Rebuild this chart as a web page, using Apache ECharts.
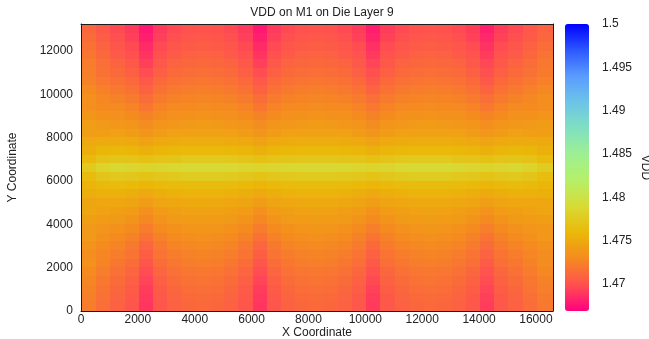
<!DOCTYPE html>
<html>
<head>
<meta charset="utf-8">
<title>VDD on M1 on Die Layer 9</title>
<script src="https://cdn.jsdelivr.net/npm/echarts@6/dist/echarts.min.js"></script>
<style>
    html, body { margin: 0; padding: 0; background: #fff; }
    #chart { width: 649px; height: 339px; }
</style>
</head>
<body>
<div id="chart"></div>
<script>
// cell centres (die coordinates)
var xCoords = [300, 800, 1300, 1800, 2300, 2800, 3300, 3800, 4300, 4800, 5300, 5800, 6300, 6800, 7300, 7800,
    8300, 8800, 9300, 9800, 10300, 10800, 11300, 11800, 12300, 12800, 13300, 13800, 14300, 14800, 15300, 15800, 16300];
// rows from top of the die to the bottom
var yCoords = [13000, 12600, 12200, 11800, 11400, 11000, 10600, 10200, 9800, 9400, 9000, 8600, 8200, 7800, 7400, 7000,
    6600, 6200, 5800, 5400, 5000, 4600, 4200, 3800, 3400, 3000, 2600, 2200, 1800, 1400, 1000, 600, 200];

var X_MIN = 0, X_MAX = 16600;
var Y_MIN = 0, Y_MAX = 13250;
var VDD_MIN = 1.4669, VDD_MAX = 1.5;

// VDD (V), one row per yCoords entry, one value per xCoords entry
var vdd = [
    [1.4711, 1.4704, 1.4697, 1.4691, 1.4678, 1.4691, 1.4697, 1.4700, 1.4701, 1.4700, 1.4697, 1.4691, 1.4678, 1.4691, 1.4697, 1.4700, 1.4701, 1.4700, 1.4697, 1.4692, 1.4680, 1.4692, 1.4697, 1.4700, 1.4701, 1.4700, 1.4697, 1.4692, 1.4681, 1.4692, 1.4697, 1.4703, 1.4709],
    [1.4713, 1.4706, 1.4699, 1.4693, 1.4681, 1.4693, 1.4699, 1.4702, 1.4703, 1.4702, 1.4699, 1.4693, 1.4681, 1.4693, 1.4699, 1.4702, 1.4703, 1.4702, 1.4699, 1.4694, 1.4683, 1.4694, 1.4699, 1.4702, 1.4703, 1.4702, 1.4699, 1.4694, 1.4684, 1.4694, 1.4699, 1.4705, 1.4711],
    [1.4716, 1.4709, 1.4702, 1.4697, 1.4685, 1.4697, 1.4702, 1.4705, 1.4706, 1.4705, 1.4702, 1.4697, 1.4685, 1.4697, 1.4702, 1.4705, 1.4706, 1.4705, 1.4702, 1.4698, 1.4687, 1.4698, 1.4702, 1.4705, 1.4706, 1.4705, 1.4702, 1.4698, 1.4688, 1.4698, 1.4702, 1.4708, 1.4714],
    [1.4719, 1.4712, 1.4705, 1.4700, 1.4689, 1.4700, 1.4705, 1.4708, 1.4709, 1.4708, 1.4705, 1.4700, 1.4689, 1.4700, 1.4705, 1.4708, 1.4709, 1.4708, 1.4705, 1.4701, 1.4691, 1.4701, 1.4705, 1.4708, 1.4709, 1.4708, 1.4705, 1.4701, 1.4692, 1.4701, 1.4705, 1.4711, 1.4717],
    [1.4722, 1.4715, 1.4709, 1.4703, 1.4693, 1.4703, 1.4709, 1.4711, 1.4712, 1.4711, 1.4709, 1.4703, 1.4693, 1.4703, 1.4709, 1.4711, 1.4712, 1.4711, 1.4709, 1.4704, 1.4695, 1.4704, 1.4709, 1.4711, 1.4712, 1.4711, 1.4709, 1.4704, 1.4696, 1.4704, 1.4709, 1.4714, 1.4720],
    [1.4723, 1.4716, 1.4712, 1.4707, 1.4698, 1.4707, 1.4712, 1.4714, 1.4715, 1.4714, 1.4712, 1.4707, 1.4698, 1.4707, 1.4712, 1.4714, 1.4715, 1.4714, 1.4712, 1.4707, 1.4699, 1.4707, 1.4712, 1.4714, 1.4715, 1.4714, 1.4712, 1.4707, 1.4699, 1.4707, 1.4712, 1.4716, 1.4721],
    [1.4725, 1.4720, 1.4716, 1.4712, 1.4703, 1.4712, 1.4716, 1.4718, 1.4719, 1.4718, 1.4716, 1.4712, 1.4703, 1.4712, 1.4716, 1.4718, 1.4719, 1.4718, 1.4716, 1.4712, 1.4704, 1.4712, 1.4716, 1.4718, 1.4719, 1.4718, 1.4716, 1.4712, 1.4704, 1.4712, 1.4716, 1.4720, 1.4724],
    [1.4729, 1.4724, 1.4720, 1.4716, 1.4708, 1.4716, 1.4720, 1.4722, 1.4723, 1.4722, 1.4720, 1.4716, 1.4708, 1.4716, 1.4720, 1.4722, 1.4723, 1.4722, 1.4720, 1.4716, 1.4709, 1.4716, 1.4720, 1.4722, 1.4723, 1.4722, 1.4720, 1.4716, 1.4709, 1.4716, 1.4720, 1.4724, 1.4728],
    [1.4733, 1.4728, 1.4725, 1.4721, 1.4714, 1.4721, 1.4725, 1.4726, 1.4727, 1.4726, 1.4725, 1.4721, 1.4714, 1.4721, 1.4725, 1.4726, 1.4727, 1.4726, 1.4725, 1.4721, 1.4715, 1.4721, 1.4725, 1.4726, 1.4727, 1.4726, 1.4725, 1.4721, 1.4715, 1.4721, 1.4725, 1.4728, 1.4732],
    [1.4733, 1.4730, 1.4729, 1.4726, 1.4719, 1.4726, 1.4729, 1.4730, 1.4731, 1.4730, 1.4729, 1.4726, 1.4719, 1.4726, 1.4729, 1.4730, 1.4731, 1.4730, 1.4729, 1.4726, 1.4720, 1.4726, 1.4729, 1.4730, 1.4731, 1.4730, 1.4729, 1.4726, 1.4720, 1.4726, 1.4729, 1.4730, 1.4732],
    [1.4737, 1.4734, 1.4733, 1.4730, 1.4725, 1.4730, 1.4733, 1.4734, 1.4735, 1.4734, 1.4733, 1.4730, 1.4725, 1.4730, 1.4733, 1.4734, 1.4735, 1.4734, 1.4733, 1.4730, 1.4725, 1.4730, 1.4733, 1.4734, 1.4735, 1.4734, 1.4733, 1.4730, 1.4726, 1.4730, 1.4733, 1.4734, 1.4736],
    [1.4742, 1.4739, 1.4738, 1.4736, 1.4731, 1.4736, 1.4738, 1.4739, 1.4740, 1.4739, 1.4738, 1.4736, 1.4731, 1.4736, 1.4738, 1.4739, 1.4740, 1.4739, 1.4738, 1.4736, 1.4731, 1.4736, 1.4738, 1.4739, 1.4740, 1.4739, 1.4738, 1.4736, 1.4732, 1.4736, 1.4738, 1.4739, 1.4741],
    [1.4742, 1.4743, 1.4744, 1.4741, 1.4737, 1.4741, 1.4744, 1.4744, 1.4745, 1.4744, 1.4744, 1.4741, 1.4737, 1.4741, 1.4744, 1.4744, 1.4745, 1.4744, 1.4744, 1.4741, 1.4737, 1.4741, 1.4744, 1.4744, 1.4745, 1.4744, 1.4744, 1.4741, 1.4738, 1.4741, 1.4744, 1.4743, 1.4743],
    [1.4749, 1.4751, 1.4751, 1.4749, 1.4745, 1.4749, 1.4751, 1.4752, 1.4752, 1.4752, 1.4751, 1.4749, 1.4745, 1.4749, 1.4751, 1.4752, 1.4752, 1.4752, 1.4751, 1.4749, 1.4745, 1.4749, 1.4751, 1.4752, 1.4752, 1.4752, 1.4751, 1.4749, 1.4746, 1.4749, 1.4751, 1.4751, 1.4750],
    [1.4753, 1.4758, 1.4759, 1.4757, 1.4754, 1.4757, 1.4759, 1.4760, 1.4760, 1.4760, 1.4759, 1.4757, 1.4754, 1.4757, 1.4759, 1.4760, 1.4760, 1.4760, 1.4759, 1.4757, 1.4754, 1.4757, 1.4759, 1.4760, 1.4760, 1.4760, 1.4759, 1.4757, 1.4754, 1.4757, 1.4759, 1.4758, 1.4754],
    [1.4761, 1.4768, 1.4771, 1.4770, 1.4767, 1.4770, 1.4771, 1.4774, 1.4774, 1.4774, 1.4773, 1.4770, 1.4767, 1.4770, 1.4771, 1.4772, 1.4772, 1.4772, 1.4771, 1.4770, 1.4767, 1.4770, 1.4773, 1.4774, 1.4774, 1.4774, 1.4771, 1.4770, 1.4767, 1.4770, 1.4771, 1.4768, 1.4762],
    [1.4774, 1.4783, 1.4787, 1.4786, 1.4784, 1.4786, 1.4787, 1.4790, 1.4790, 1.4790, 1.4789, 1.4786, 1.4784, 1.4786, 1.4787, 1.4788, 1.4788, 1.4788, 1.4787, 1.4786, 1.4784, 1.4786, 1.4789, 1.4790, 1.4790, 1.4790, 1.4787, 1.4786, 1.4784, 1.4786, 1.4787, 1.4783, 1.4776],
    [1.4763, 1.4770, 1.4773, 1.4772, 1.4769, 1.4772, 1.4773, 1.4776, 1.4776, 1.4776, 1.4775, 1.4772, 1.4769, 1.4772, 1.4773, 1.4774, 1.4774, 1.4774, 1.4773, 1.4772, 1.4769, 1.4772, 1.4775, 1.4776, 1.4776, 1.4776, 1.4773, 1.4772, 1.4769, 1.4772, 1.4773, 1.4770, 1.4764],
    [1.4756, 1.4761, 1.4762, 1.4760, 1.4757, 1.4760, 1.4762, 1.4763, 1.4763, 1.4763, 1.4762, 1.4760, 1.4757, 1.4760, 1.4762, 1.4763, 1.4763, 1.4763, 1.4762, 1.4760, 1.4757, 1.4760, 1.4762, 1.4763, 1.4763, 1.4763, 1.4762, 1.4760, 1.4757, 1.4760, 1.4762, 1.4761, 1.4757],
    [1.4753, 1.4755, 1.4755, 1.4753, 1.4749, 1.4753, 1.4755, 1.4756, 1.4756, 1.4756, 1.4755, 1.4753, 1.4749, 1.4753, 1.4755, 1.4756, 1.4756, 1.4756, 1.4755, 1.4753, 1.4749, 1.4753, 1.4755, 1.4756, 1.4756, 1.4756, 1.4755, 1.4753, 1.4750, 1.4753, 1.4755, 1.4755, 1.4754],
    [1.4747, 1.4748, 1.4748, 1.4746, 1.4741, 1.4746, 1.4748, 1.4749, 1.4750, 1.4749, 1.4748, 1.4746, 1.4741, 1.4746, 1.4748, 1.4749, 1.4750, 1.4749, 1.4748, 1.4746, 1.4742, 1.4746, 1.4748, 1.4749, 1.4750, 1.4749, 1.4748, 1.4746, 1.4742, 1.4746, 1.4748, 1.4748, 1.4748],
    [1.4747, 1.4744, 1.4743, 1.4740, 1.4734, 1.4740, 1.4743, 1.4744, 1.4745, 1.4744, 1.4743, 1.4740, 1.4734, 1.4740, 1.4743, 1.4744, 1.4745, 1.4744, 1.4743, 1.4740, 1.4735, 1.4740, 1.4743, 1.4744, 1.4745, 1.4744, 1.4743, 1.4740, 1.4735, 1.4740, 1.4743, 1.4744, 1.4746],
    [1.4743, 1.4740, 1.4739, 1.4735, 1.4728, 1.4735, 1.4739, 1.4740, 1.4741, 1.4740, 1.4739, 1.4735, 1.4728, 1.4735, 1.4739, 1.4740, 1.4741, 1.4740, 1.4739, 1.4735, 1.4729, 1.4735, 1.4739, 1.4740, 1.4741, 1.4740, 1.4739, 1.4735, 1.4729, 1.4735, 1.4739, 1.4740, 1.4742],
    [1.4739, 1.4736, 1.4734, 1.4730, 1.4722, 1.4730, 1.4734, 1.4736, 1.4737, 1.4736, 1.4734, 1.4730, 1.4722, 1.4730, 1.4734, 1.4736, 1.4737, 1.4736, 1.4734, 1.4730, 1.4723, 1.4730, 1.4734, 1.4736, 1.4737, 1.4736, 1.4734, 1.4730, 1.4723, 1.4730, 1.4734, 1.4736, 1.4738],
    [1.4739, 1.4734, 1.4730, 1.4725, 1.4716, 1.4725, 1.4730, 1.4732, 1.4733, 1.4732, 1.4730, 1.4725, 1.4716, 1.4725, 1.4730, 1.4732, 1.4733, 1.4732, 1.4730, 1.4725, 1.4717, 1.4725, 1.4730, 1.4732, 1.4733, 1.4732, 1.4730, 1.4725, 1.4718, 1.4725, 1.4730, 1.4734, 1.4738],
    [1.4735, 1.4730, 1.4726, 1.4720, 1.4710, 1.4720, 1.4726, 1.4728, 1.4729, 1.4728, 1.4726, 1.4720, 1.4710, 1.4720, 1.4726, 1.4728, 1.4729, 1.4728, 1.4726, 1.4721, 1.4712, 1.4721, 1.4726, 1.4728, 1.4729, 1.4728, 1.4726, 1.4721, 1.4713, 1.4721, 1.4726, 1.4730, 1.4734],
    [1.4732, 1.4727, 1.4722, 1.4717, 1.4706, 1.4717, 1.4722, 1.4725, 1.4726, 1.4725, 1.4722, 1.4717, 1.4706, 1.4717, 1.4722, 1.4725, 1.4726, 1.4725, 1.4722, 1.4718, 1.4708, 1.4718, 1.4722, 1.4725, 1.4726, 1.4725, 1.4722, 1.4718, 1.4709, 1.4718, 1.4722, 1.4727, 1.4731],
    [1.4733, 1.4726, 1.4719, 1.4714, 1.4702, 1.4714, 1.4719, 1.4722, 1.4723, 1.4722, 1.4719, 1.4714, 1.4702, 1.4714, 1.4719, 1.4722, 1.4723, 1.4722, 1.4719, 1.4715, 1.4704, 1.4715, 1.4719, 1.4722, 1.4723, 1.4722, 1.4719, 1.4715, 1.4705, 1.4715, 1.4719, 1.4725, 1.4731],
    [1.4730, 1.4723, 1.4716, 1.4710, 1.4698, 1.4710, 1.4716, 1.4719, 1.4720, 1.4719, 1.4716, 1.4710, 1.4698, 1.4710, 1.4716, 1.4719, 1.4720, 1.4719, 1.4716, 1.4711, 1.4700, 1.4711, 1.4716, 1.4719, 1.4720, 1.4719, 1.4716, 1.4711, 1.4701, 1.4711, 1.4716, 1.4722, 1.4728],
    [1.4727, 1.4720, 1.4713, 1.4707, 1.4695, 1.4707, 1.4713, 1.4716, 1.4717, 1.4716, 1.4713, 1.4707, 1.4695, 1.4707, 1.4713, 1.4716, 1.4717, 1.4716, 1.4713, 1.4708, 1.4697, 1.4708, 1.4713, 1.4716, 1.4717, 1.4716, 1.4713, 1.4708, 1.4698, 1.4708, 1.4713, 1.4719, 1.4725],
    [1.4725, 1.4718, 1.4711, 1.4705, 1.4692, 1.4705, 1.4711, 1.4714, 1.4715, 1.4714, 1.4711, 1.4705, 1.4692, 1.4705, 1.4711, 1.4714, 1.4715, 1.4714, 1.4711, 1.4706, 1.4694, 1.4706, 1.4711, 1.4714, 1.4715, 1.4714, 1.4711, 1.4706, 1.4695, 1.4706, 1.4711, 1.4717, 1.4723],
    [1.4723, 1.4716, 1.4709, 1.4703, 1.4690, 1.4703, 1.4709, 1.4712, 1.4713, 1.4712, 1.4709, 1.4703, 1.4690, 1.4703, 1.4709, 1.4712, 1.4713, 1.4712, 1.4709, 1.4704, 1.4692, 1.4704, 1.4709, 1.4712, 1.4713, 1.4712, 1.4709, 1.4704, 1.4693, 1.4704, 1.4709, 1.4715, 1.4721],
    [1.4722, 1.4715, 1.4708, 1.4702, 1.4689, 1.4702, 1.4708, 1.4711, 1.4712, 1.4711, 1.4708, 1.4702, 1.4689, 1.4702, 1.4708, 1.4711, 1.4712, 1.4711, 1.4708, 1.4703, 1.4691, 1.4703, 1.4708, 1.4711, 1.4712, 1.4711, 1.4708, 1.4703, 1.4692, 1.4703, 1.4708, 1.4714, 1.4720]
];

// colour map of the colour bar, low -> high
var vddColors = ['#ff0080', '#ff5050', '#f58a20', '#eab808', '#d8da34', '#b6f068',
    '#9ef092', '#80e0c0', '#6cc4e8', '#5a9cff', '#2c58ff', '#0000ff'];

var FONT = "'Liberation Sans', Arial, sans-serif";
var TEXT_COLOR = '#222';
var FRAME = { show: true, onZero: false, lineStyle: { color: '#1a1a1a', width: 1 } };

if (vdd.length !== yCoords.length) {
    throw new Error('vdd rows: ' + vdd.length);
}
var cells = [];
for (var r = 0; r < vdd.length; r++) {
    if (vdd[r].length !== xCoords.length) {
        throw new Error('row ' + r + ' has ' + vdd[r].length + ' values');
    }
    for (var c = 0; c < vdd[r].length; c++) {
        cells.push([xCoords[c], yCoords[r], vdd[r][c], c, r]);
    }
}

function cellEdges(list, i, lo, hi, descending) {
    var a = i === 0 ? (descending ? hi : lo) : (list[i - 1] + list[i]) / 2;
    var b = i === list.length - 1 ? (descending ? lo : hi) : (list[i] + list[i + 1]) / 2;
    return [a, b];
}

function renderCell(params, api) {
    var c = api.value(3), r = api.value(4);
    var xe = cellEdges(xCoords, c, X_MIN, X_MAX, false);
    var ye = cellEdges(yCoords, r, Y_MIN, Y_MAX, true);
    var p0 = api.coord([xe[0], ye[0]]);
    var p1 = api.coord([xe[1], ye[1]]);
    var x = Math.floor(p0[0]), y = Math.floor(p0[1]);
    return {
        type: 'rect',
        shape: { x: x, y: y, width: Math.ceil(p1[0]) - x + 1, height: Math.ceil(p1[1]) - y + 1 },
        style: { fill: api.visual('color') }
    };
}

function plainNumber(v) {
    return String(v);
}

var myChart = echarts.init(document.getElementById('chart'));

var option = {
    backgroundColor: '#fff',
    animation: false,
    textStyle: { fontFamily: FONT },
    title: {
        text: 'VDD on M1 on Die Layer 9',
        left: 317,
        top: 2,
        textAlign: 'center',
        textStyle: { fontFamily: FONT, fontSize: 12, fontWeight: 'normal', color: TEXT_COLOR }
    },
    grid: [
        { left: 81, top: 24, width: 472, height: 287, outerBoundsMode: 'none' },
        { left: 565, top: 24, width: 24, height: 287, outerBoundsMode: 'none' }
    ],
    visualMap: {
        type: 'continuous',
        seriesIndex: 0,
        dimension: 2,
        min: VDD_MIN,
        max: VDD_MAX,
        calculable: false,
        hoverLink: false,
        orient: 'vertical',
        left: 565,
        top: 24,
        padding: 0,
        itemWidth: 24,
        itemHeight: 287,
        text: null,
        inRange: { color: vddColors }
    },
    xAxis: [{
        gridIndex: 0,
        type: 'value',
        position: 'bottom',
        min: X_MIN,
        max: X_MAX,
        interval: 2000,
        axisLine: FRAME,
        axisTick: { show: false },
        splitLine: { show: false },
        axisLabel: { color: TEXT_COLOR, fontSize: 12, margin: 3, showMaxLabel: false, formatter: plainNumber },
        name: 'X Coordinate',
        nameLocation: 'middle',
        nameGap: 16,
        nameMoveOverlap: false,
        nameTextStyle: { color: TEXT_COLOR, fontSize: 12 },
        z: 5
    }, {
        gridIndex: 0,
        type: 'value',
        position: 'top',
        min: X_MIN,
        max: X_MAX,
        axisLine: FRAME,
        axisTick: { show: false },
        axisLabel: { show: false },
        splitLine: { show: false },
        z: 5
    }, {
        gridIndex: 1,
        type: 'value',
        min: 0,
        max: 1,
        show: false
    }],
    yAxis: [{
        gridIndex: 0,
        type: 'value',
        position: 'left',
        min: Y_MIN,
        max: Y_MAX,
        interval: 2000,
        axisLine: FRAME,
        axisTick: { show: false },
        splitLine: { show: false },
        axisLabel: { color: TEXT_COLOR, fontSize: 12, margin: 8, showMaxLabel: false, formatter: plainNumber },
        name: 'Y Coordinate',
        nameLocation: 'middle',
        nameRotate: 90,
        nameGap: 62,
        nameTextStyle: { color: TEXT_COLOR, fontSize: 12 },
        z: 5
    }, {
        gridIndex: 0,
        type: 'value',
        position: 'right',
        min: Y_MIN,
        max: Y_MAX,
        axisLine: FRAME,
        axisTick: { show: false },
        axisLabel: { show: false },
        splitLine: { show: false },
        z: 5
    }, {
        gridIndex: 1,
        type: 'value',
        position: 'right',
        min: VDD_MIN,
        max: VDD_MAX,
        axisLine: { show: false },
        axisTick: { show: false },
        splitLine: { show: false },
        axisLabel: { color: TEXT_COLOR, fontSize: 12, margin: 13, showMinLabel: false },
        name: 'VDD',
        nameLocation: 'middle',
        nameRotate: -90,
        nameGap: 50,
        nameTextStyle: { color: TEXT_COLOR, fontSize: 12 }
    }],
    series: [{
        type: 'custom',
        xAxisIndex: 0,
        yAxisIndex: 0,
        renderItem: renderCell,
        encode: { x: 0, y: 1 },
        clip: true,
        silent: true,
        data: cells
    }]
};

myChart.setOption(option);
window.addEventListener('resize', myChart.resize);
</script>
</body>
</html>
